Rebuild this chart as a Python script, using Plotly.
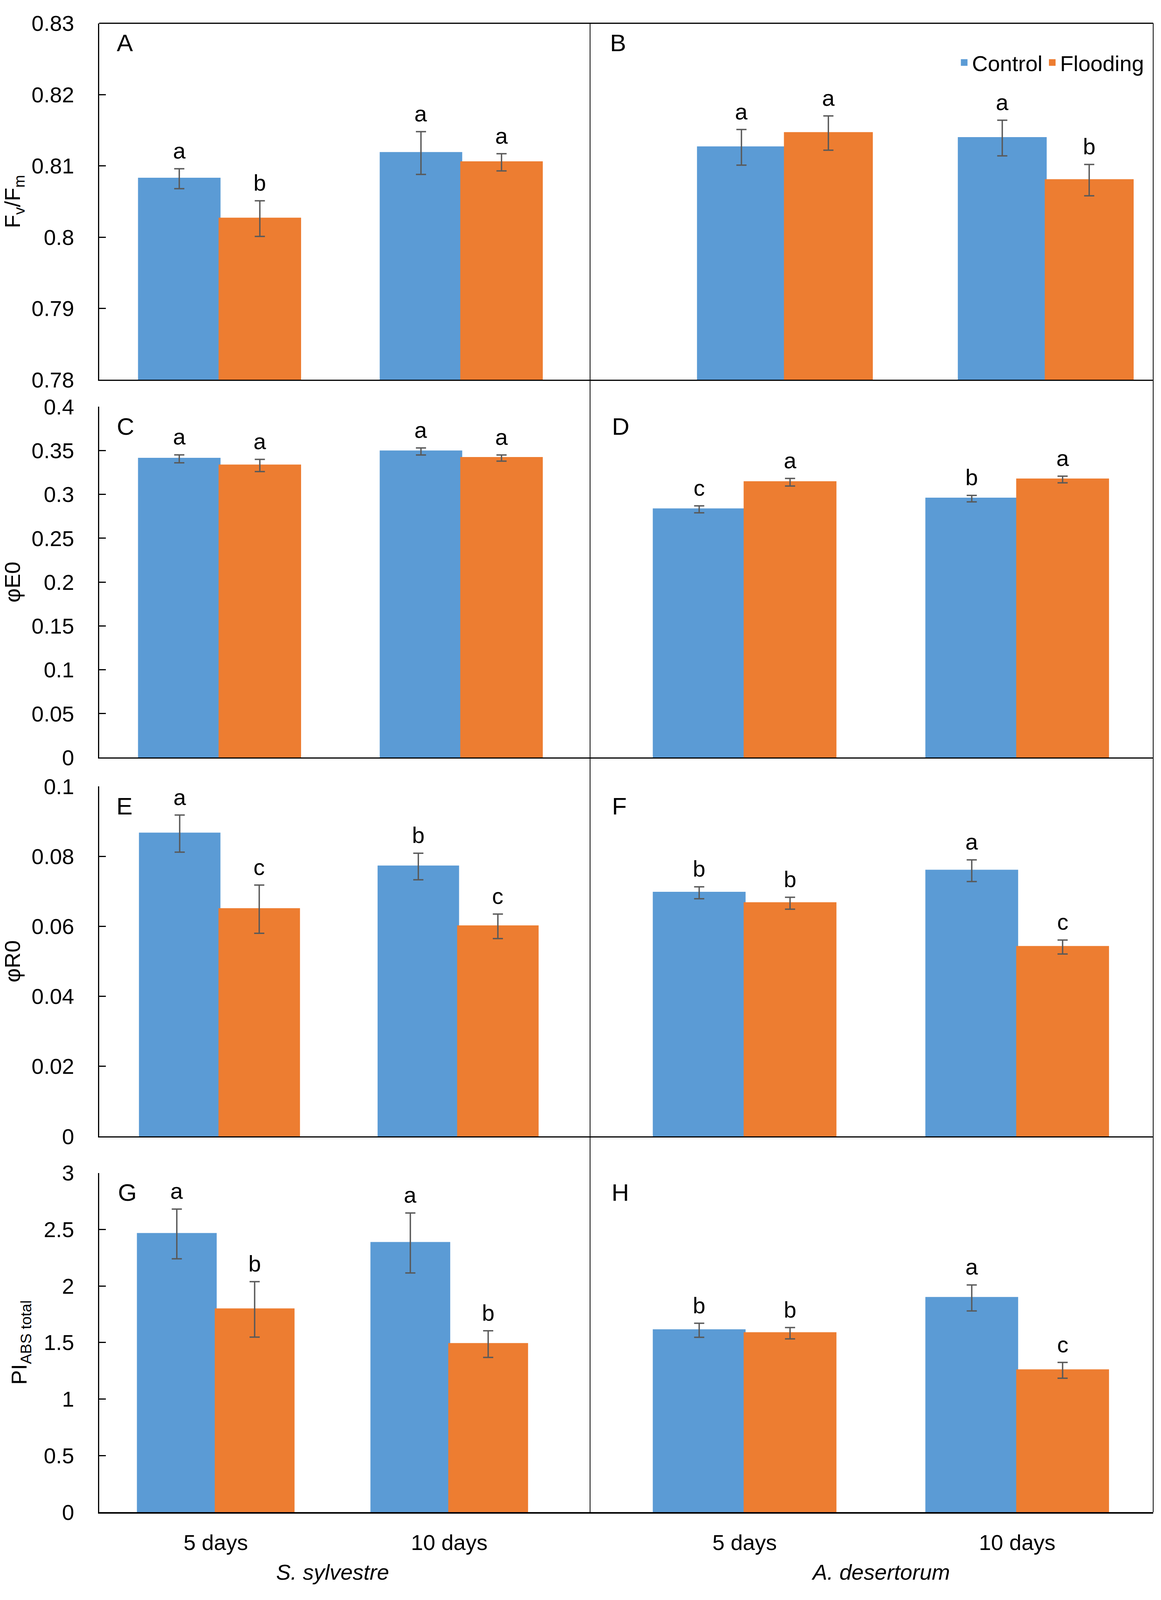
import plotly.graph_objects as go
from plotly.subplots import make_subplots

# ---------------- data ----------------
days = ["5 days", "10 days"]
species = ["S. sylvestre", "A. desertorum"]
series_names = ["Control", "Flooding"]
series_colors = ["#5B9BD5", "#ED7D31"]

# A: Fv/Fm, S. sylvestre
A_control = [0.8082, 0.8118]
A_control_se = [0.0014, 0.0030]
A_flood = [0.8026, 0.8105]
A_flood_se = [0.0025, 0.0012]
A_control_sig = ["a", "a"]
A_flood_sig = ["b", "a"]

# B: Fv/Fm, A. desertorum
B_control = [0.8126, 0.8139]
B_control_se = [0.0025, 0.0025]
B_flood = [0.8146, 0.8080]
B_flood_se = [0.0024, 0.0022]
B_control_sig = ["a", "a"]
B_flood_sig = ["a", "b"]

# C: phiE0, S. sylvestre
C_control = [0.3406, 0.3490]
C_control_se = [0.0045, 0.0040]
C_flood = [0.3330, 0.3415]
C_flood_se = [0.0070, 0.0035]
C_control_sig = ["a", "a"]
C_flood_sig = ["a", "a"]

# D: phiE0, A. desertorum
D_control = [0.2830, 0.2952]
D_control_se = [0.0040, 0.0037]
D_flood = [0.3139, 0.3170]
D_flood_se = [0.0043, 0.0038]
D_control_sig = ["c", "b"]
D_flood_sig = ["a", "a"]

# E: phiR0, S. sylvestre
E_control = [0.0865, 0.0771]
E_control_se = [0.0053, 0.0038]
E_flood = [0.0649, 0.0600]
E_flood_se = [0.0069, 0.0035]
E_control_sig = ["a", "b"]
E_flood_sig = ["c", "c"]

# F: phiR0, A. desertorum
F_control = [0.0696, 0.0759]
F_control_se = [0.0017, 0.0031]
F_flood = [0.0666, 0.0541]
F_flood_se = [0.0017, 0.0020]
F_control_sig = ["b", "a"]
F_flood_sig = ["b", "c"]

# G: PI ABS total, S. sylvestre
G_control = [2.46, 2.38]
G_control_se = [0.22, 0.265]
G_flood = [1.793, 1.486]
G_flood_se = [0.245, 0.118]
G_control_sig = ["a", "a"]
G_flood_sig = ["b", "b"]

# H: PI ABS total, A. desertorum
H_control = [1.608, 1.894]
H_control_se = [0.062, 0.115]
H_flood = [1.582, 1.254]
H_flood_se = [0.050, 0.070]
H_control_sig = ["b", "a"]
H_flood_sig = ["b", "c"]

# y-axis ticks
fvfm_tickvals = [0.78, 0.79, 0.80, 0.81, 0.82, 0.83]
fvfm_ticktext = ["0.78", "0.79", "0.8", "0.81", "0.82", "0.83"]
phiE0_tickvals = [0, 0.05, 0.1, 0.15, 0.2, 0.25, 0.3, 0.35, 0.4]
phiE0_ticktext = ["0", "0.05", "0.1", "0.15", "0.2", "0.25", "0.3", "0.35", "0.4"]
phiR0_tickvals = [0, 0.02, 0.04, 0.06, 0.08, 0.1]
phiR0_ticktext = ["0", "0.02", "0.04", "0.06", "0.08", "0.1"]
pi_tickvals = [0, 0.5, 1, 1.5, 2, 2.5, 3]
pi_ticktext = ["0", "0.5", "1", "1.5", "2", "2.5", "3"]

row_titles = ["F<sub>v</sub>/F<sub>m</sub>", "φE0", "φR0", "PI<sub>ABS total</sub>"]
row_ranges = [[0.78, 0.83], [0, 0.4], [0, 0.1], [0, 3]]
row_ticks = [(fvfm_tickvals, fvfm_ticktext), (phiE0_tickvals, phiE0_ticktext),
             (phiR0_tickvals, phiR0_ticktext), (pi_tickvals, pi_ticktext)]

panels = [
    ("A", A_control, A_control_se, A_flood, A_flood_se, A_control_sig, A_flood_sig),
    ("B", B_control, B_control_se, B_flood, B_flood_se, B_control_sig, B_flood_sig),
    ("C", C_control, C_control_se, C_flood, C_flood_se, C_control_sig, C_flood_sig),
    ("D", D_control, D_control_se, D_flood, D_flood_se, D_control_sig, D_flood_sig),
    ("E", E_control, E_control_se, E_flood, E_flood_se, E_control_sig, E_flood_sig),
    ("F", F_control, F_control_se, F_flood, F_flood_se, F_control_sig, F_flood_sig),
    ("G", G_control, G_control_se, G_flood, G_flood_se, G_control_sig, G_flood_sig),
    ("H", H_control, H_control_se, H_flood, H_flood_se, H_control_sig, H_flood_sig),
]

# ---------------- layout geometry (pixels of the visible page) ----------------
W, H = 2973, 4096
FONT = "Arial, Liberation Sans, sans-serif"
col_px = [(254, 1511), (1511, 2953)]
row_px = [(29, 956), (1026, 1938), (2013, 2923), (3018, 3900)]
x_ranges = [[-0.498, 1.533], [-0.747, 1.412],
            [-0.498, 1.533], [-0.567, 1.499],
            [-0.504, 1.553], [-0.567, 1.499],
            [-0.499, 1.603], [-0.567, 1.499]]
letter_x = [297, 1560, 297, 1565, 296, 1565, 300, 1564]
letter_dy = 14
title_standoff = [14, 28, 26, 26]
legend_y_px = 131
species_y_px = 4056

bargap = 1 / 3


def fx(p):
    return p / W


def fy(p):
    return 1 - p / H


fig = make_subplots(rows=4, cols=2)
cat_pos = list(range(len(days)))
offsets = [-(1 - bargap) / 4, (1 - bargap) / 4]

annotations = []
for i, (letter, c, cse, f, fse, csig, fsig) in enumerate(panels):
    r, col = i // 2, i % 2
    vals = [(c, cse, csig), (f, fse, fsig)]
    n = i + 1
    xr = "x" if n == 1 else f"x{n}"
    yr = "y" if n == 1 else f"y{n}"
    for s, (v, se, sig) in enumerate(vals):
        fig.add_trace(
            go.Bar(
                x=cat_pos, y=v, name=series_names[s],
                marker=dict(color=series_colors[s],
                            line=dict(width=5, color=series_colors[s])),
                error_y=dict(type="data", array=se, visible=True,
                             color="#595959", thickness=3.5, width=13),
                legendgroup=series_names[s], showlegend=(i == 1),
            ),
            row=r + 1, col=col + 1,
        )
        for j in cat_pos:
            annotations.append(dict(
                x=j + offsets[s], y=v[j] + se[j], xref=xr, yref=yr,
                text=sig[j], showarrow=False, yanchor="bottom", yshift=12,
                font=dict(family=FONT, size=58, color="black"),
            ))
    # panel letter
    annotations.append(dict(x=fx(letter_x[i]), y=fy(row_px[r][0] + letter_dy),
                            xref="paper", yref="paper",
                            text=letter, showarrow=False, xanchor="left",
                            yanchor="top",
                            font=dict(family=FONT, size=62, color="black")))

    xa = dict(domain=[fx(col_px[col][0]), fx(col_px[col][1])],
              range=x_ranges[i], showline=True, linecolor="black",
              linewidth=4 if r == 3 else 3, ticks="", showgrid=False,
              zeroline=False, tickvals=cat_pos, ticktext=days,
              showticklabels=(r == 3), ticklabelstandoff=26,
              tickfont=dict(family=FONT, size=56, color="black"))
    ya = dict(domain=[fy(row_px[r][1]), fy(row_px[r][0])],
              range=row_ranges[r], showgrid=False, zeroline=False)
    if col == 0:
        ya.update(showline=True, linecolor="black", linewidth=3,
                  ticks="inside", ticklen=17, tickwidth=3, tickcolor="black",
                  tickvals=row_ticks[r][0], ticktext=row_ticks[r][1],
                  ticklabelstandoff=50,
                  tickfont=dict(family=FONT, size=56, color="black"),
                  title=dict(text=row_titles[r], standoff=title_standoff[r],
                             font=dict(family=FONT, size=56, color="black")))
    else:
        ya.update(showline=False, showticklabels=False, ticks="")
    fig.update_xaxes(xa, row=r + 1, col=col + 1)
    fig.update_yaxes(ya, row=r + 1, col=col + 1)

# species labels under the bottom row
for k, sp in enumerate(species):
    annotations.append(dict(x=(cat_pos[0] + cat_pos[-1]) / 2, y=fy(species_y_px),
                            xref="x7" if k == 0 else "x8", yref="paper",
                            text=f"<i>{sp}</i>", showarrow=False,
                            yanchor="middle",
                            font=dict(family=FONT, size=56, color="black")))

top_px, bot_px = row_px[0][0], row_px[-1][1]
shapes = [
    dict(type="line", xref="paper", yref="paper", x0=fx(col_px[0][0]),
         x1=fx(col_px[1][1]), y0=fy(top_px), y1=fy(top_px),
         line=dict(color="black", width=3)),
    dict(type="line", xref="paper", yref="paper", x0=fx(col_px[1][0]),
         x1=fx(col_px[1][0]), y0=fy(top_px), y1=fy(bot_px),
         line=dict(color="black", width=2)),
    dict(type="line", xref="paper", yref="paper", x0=fx(col_px[1][1]),
         x1=fx(col_px[1][1]), y0=fy(top_px), y1=fy(bot_px),
         line=dict(color="black", width=2)),
]

fig.update_layout(
    width=W, height=H,
    margin=dict(l=0, r=0, t=0, b=0),
    paper_bgcolor="white", plot_bgcolor="white",
    barmode="group", bargap=bargap, bargroupgap=0,
    font=dict(family=FONT, size=56, color="black"),
    legend=dict(orientation="h", x=fx(2935), xanchor="right",
                y=fy(legend_y_px), yanchor="middle",
                font=dict(family=FONT, size=56, color="black"),
                bgcolor="rgba(0,0,0,0)", itemwidth=30, traceorder="normal"),
    annotations=annotations, shapes=shapes,
)

fig.write_html("out.html", config={"displayModeBar": False},
               post_script="document.body.style.margin='0';")
